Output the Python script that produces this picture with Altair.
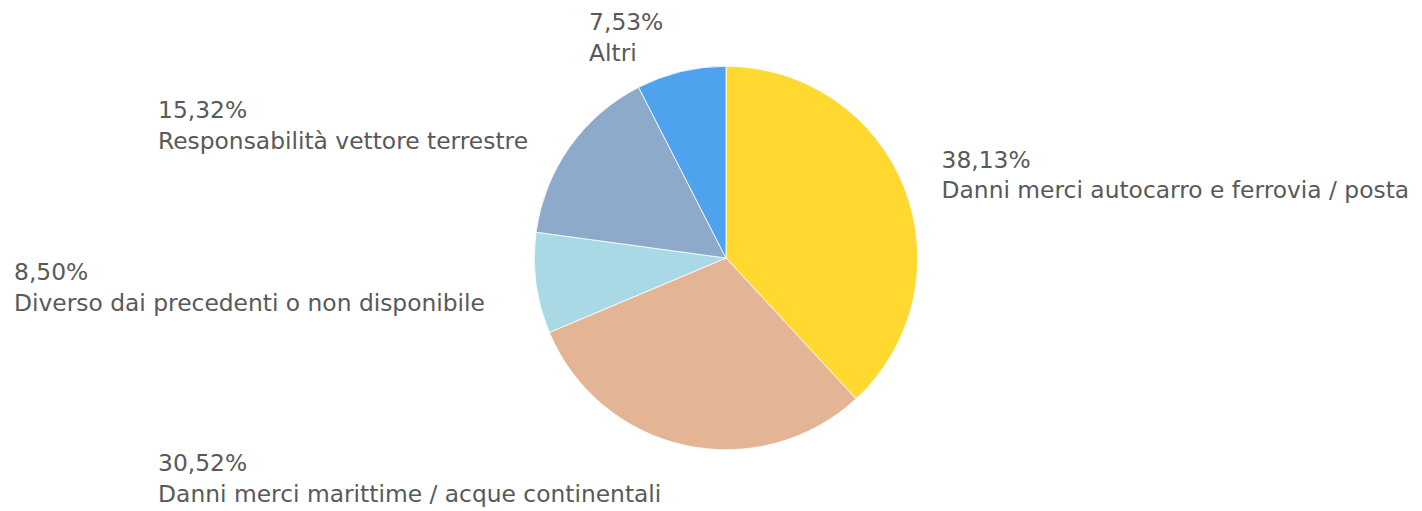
import altair as alt
import pandas as pd

categories = [
    "Danni merci autocarro e ferrovia / posta",
    "Danni merci marittime / acque continentali",
    "Diverso dai precedenti o non disponibile",
    "Responsabilità vettore terrestre",
    "Altri",
]
shares = [38.13, 30.52, 8.50, 15.32, 7.53]
pct_labels = ["38,13%", "30,52%", "8,50%", "15,32%", "7,53%"]
colors = ["#FFD92F", "#E3B594", "#A8D9E4", "#8EAACB", "#4FA3EE"]

# label layout: (dx, dy of first line) relative to the slice mid-angle point
label_offsets = [(-3, -5), (-519, -16), (-480, -9), (-377, -4), (-82, 0)]
LINE_GAP = 31
FONT = "DejaVu Sans"
FSIZE = 23.4
TXT = "#595959"
CENTER_Y = 250

df = pd.DataFrame({"cat": categories, "share": shares, "pct": pct_labels,
                   "order": list(range(len(categories)))})
total = sum(shares)

pie = alt.Chart(df).mark_arc(radius=192, stroke="white", strokeWidth=0.8).encode(
    theta=alt.Theta("share:Q", stack=True, scale=alt.Scale(domain=[0, total])),
    color=alt.Color("cat:N", scale=alt.Scale(domain=categories, range=colors), legend=None),
    order=alt.Order("order:Q"),
    y=alt.value(CENTER_Y),
)

base = (
    alt.Chart(df)
    .transform_window(cum="sum(share)", sort=[{"field": "order"}])
    .transform_calculate(mid="datum.cum - datum.share / 2")
)

layers = [pie]
for cat, (dx, dy) in zip(categories, label_offsets):
    sub = base.transform_filter(alt.datum.cat == cat)
    for field, extra in (("pct", 0), ("cat", LINE_GAP)):
        layers.append(
            sub.mark_text(radius=235, align="left", baseline="alphabetic",
                          dx=dx, dy=dy + extra, font=FONT, fontSize=FSIZE, color=TXT)
            .encode(theta=alt.Theta("mid:Q", scale=alt.Scale(domain=[0, total])),
                    text=alt.Text(f"{field}:N"),
                    y=alt.value(CENTER_Y))
        )

chart = (
    alt.layer(*layers)
    .properties(width=1378, height=495,
                padding={"left": 30, "top": 0, "right": 0, "bottom": 7},
                autosize=alt.AutoSizeParams(type="none"))
    .configure_view(stroke=None)
)

chart.save("out.html", embed_options={"renderer": "svg", "actions": False})
